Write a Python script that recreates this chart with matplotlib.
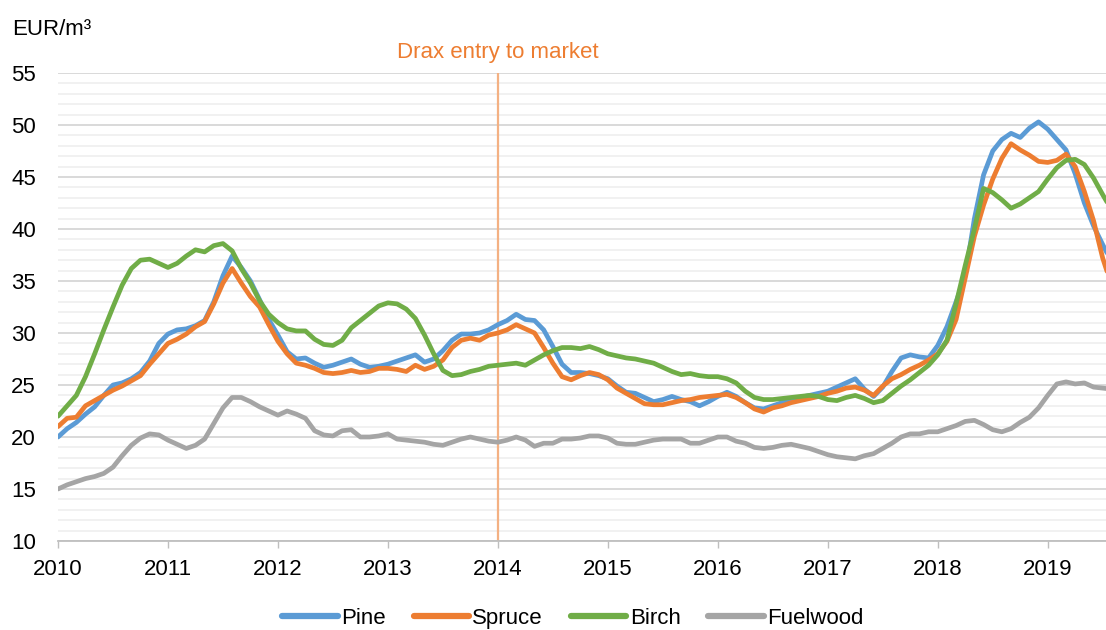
import numpy as np
import matplotlib
matplotlib.use("Agg")
import matplotlib.pyplot as plt

plt.rcParams['font.family'] = ['Liberation Sans', 'DejaVu Sans']

start_year = 2010
series_names = ["Pine", "Spruce", "Birch", "Fuelwood"]
colors = ["#5B9BD5", "#ED7D31", "#70AD47", "#A5A5A5"]

pine = [
    20.0, 20.8, 21.4, 22.2, 22.9, 24.0, 25.0, 25.2, 25.6, 26.2, 27.3, 29.0,
    29.9, 30.3, 30.4, 30.7, 31.2, 33.0, 35.5, 37.4, 36.3, 35.0, 33.2, 31.3,
    29.8, 28.2, 27.5, 27.6, 27.1, 26.7, 26.9, 27.2, 27.5, 27.0, 26.7, 26.8,
    27.0, 27.3, 27.6, 27.9, 27.2, 27.5, 28.3, 29.3, 29.9, 29.9, 30.0, 30.3,
    30.8, 31.2, 31.8, 31.3, 31.2, 30.3, 28.7, 27.0, 26.2, 26.2, 26.1, 25.9,
    25.6, 24.9, 24.3, 24.2, 23.8, 23.4, 23.6, 23.9, 23.6, 23.4, 23.0, 23.4,
    23.9, 24.3, 23.9, 23.3, 22.8, 22.7, 23.0, 23.3, 23.6, 23.8, 24.0, 24.2,
    24.4, 24.8, 25.2, 25.6, 24.6, 23.9, 24.8, 26.3, 27.6, 27.9, 27.7, 27.6,
    28.8, 30.6, 33.0, 35.5, 41.0, 45.2, 47.5, 48.6, 49.2, 48.8, 49.7, 50.3,
    49.6, 48.6, 47.6, 45.3, 42.5, 40.3, 38.5, 36.8,
]
spruce = [
    21.0, 21.8, 21.9, 23.0, 23.5, 24.0, 24.5, 24.9, 25.4, 25.9, 27.0, 28.0,
    29.0, 29.4, 29.9, 30.6, 31.1, 32.8, 34.8, 36.2, 34.8, 33.5, 32.5, 30.8,
    29.2, 28.0, 27.1, 26.9, 26.6, 26.2, 26.1, 26.2, 26.4, 26.2, 26.3, 26.6,
    26.6, 26.5, 26.3, 26.9, 26.5, 26.8, 27.4, 28.6, 29.3, 29.5, 29.3, 29.8,
    30.0, 30.3, 30.8, 30.4, 30.0, 28.6, 27.1, 25.8, 25.5, 25.9, 26.2, 26.0,
    25.5, 24.7, 24.2, 23.7, 23.2, 23.1, 23.1, 23.3, 23.5, 23.6, 23.8, 23.9,
    24.0, 24.1, 23.8, 23.3, 22.7, 22.4, 22.8, 23.0, 23.3, 23.5, 23.7, 23.9,
    24.2, 24.4, 24.7, 24.8, 24.5, 24.0, 24.9, 25.6, 26.0, 26.5, 26.9, 27.4,
    28.0, 29.2, 31.3, 35.3, 39.3, 42.3, 44.8, 46.8, 48.2, 47.6, 47.1, 46.5,
    46.4, 46.6, 47.2, 46.0, 43.6, 40.8, 37.2, 34.5,
]
birch = [
    22.0, 23.0, 24.0, 25.8, 28.0, 30.3, 32.5, 34.6, 36.2, 37.0, 37.1, 36.7,
    36.3, 36.7, 37.4, 38.0, 37.8, 38.4, 38.6, 37.9, 36.2, 34.8, 33.1, 31.8,
    31.0, 30.4, 30.2, 30.2, 29.4, 28.9, 28.8, 29.3, 30.5, 31.2, 31.9, 32.6,
    32.9, 32.8, 32.3, 31.4, 29.8, 28.0, 26.4, 25.9, 26.0, 26.3, 26.5, 26.8,
    26.9, 27.0, 27.1, 26.9, 27.4, 27.9, 28.3, 28.6, 28.6, 28.5, 28.7, 28.4,
    28.0, 27.8, 27.6, 27.5, 27.3, 27.1, 26.7, 26.3, 26.0, 26.1, 25.9, 25.8,
    25.8, 25.6, 25.2, 24.4, 23.8, 23.6, 23.6, 23.7, 23.8, 23.9, 24.0, 23.9,
    23.6, 23.5, 23.8, 24.0, 23.7, 23.3, 23.5, 24.2, 24.9, 25.5, 26.2, 26.9,
    27.9, 29.3, 32.8, 36.5, 40.0, 43.9, 43.5, 42.8, 42.0, 42.4, 43.0, 43.6,
    44.8, 45.9, 46.6, 46.7, 46.2, 44.9, 43.3, 41.8,
]
fuelwood = [
    15.0, 15.4, 15.7, 16.0, 16.2, 16.5, 17.1, 18.2, 19.2, 19.9, 20.3, 20.2,
    19.7, 19.3, 18.9, 19.2, 19.8, 21.3, 22.8, 23.8, 23.8, 23.4, 22.9, 22.5,
    22.1, 22.5, 22.2, 21.8, 20.6, 20.2, 20.1, 20.6, 20.7, 20.0, 20.0, 20.1,
    20.3, 19.8, 19.7, 19.6, 19.5, 19.3, 19.2, 19.5, 19.8, 20.0, 19.8, 19.6,
    19.5, 19.7, 20.0, 19.7, 19.1, 19.4, 19.4, 19.8, 19.8, 19.9, 20.1, 20.1,
    19.9, 19.4, 19.3, 19.3, 19.5, 19.7, 19.8, 19.8, 19.8, 19.4, 19.4, 19.7,
    20.0, 20.0, 19.6, 19.4, 19.0, 18.9, 19.0, 19.2, 19.3, 19.1, 18.9, 18.6,
    18.3, 18.1, 18.0, 17.9, 18.2, 18.4, 18.9, 19.4, 20.0, 20.3, 20.3, 20.5,
    20.5, 20.8, 21.1, 21.5, 21.6, 21.2, 20.7, 20.5, 20.8, 21.4, 21.9, 22.8,
    24.0, 25.1, 25.3, 25.1, 25.2, 24.8, 24.7, 24.6,
]
year_ticks = [2010, 2011, 2012, 2013, 2014, 2015, 2016, 2017, 2018, 2019]
y_ticks = [10, 15, 20, 25, 30, 35, 40, 45, 50, 55]
drax_year = 2014
drax_label = "Drax entry to market"
y_unit = "EUR/m³"

fig = plt.figure(figsize=(11.06, 6.30), dpi=100)
ax = fig.add_axes([58 / 1106, (630 - 541) / 630, 1 - 58 / 1106, (541 - 73) / 630])

x = start_year + np.arange(len(pine)) / 12.0
for name, vals, c in zip(series_names, [pine, spruce, birch, fuelwood], colors):
    ax.plot(x, vals, color=c, lw=3.4, label=name,
            solid_joinstyle='round', solid_capstyle='round', zorder=3)

ax.set_xlim(2010, 2019.53)
ax.set_ylim(10, 55)
ax.set_yticks(y_ticks)
ax.set_yticks(np.arange(10, 56, 1), minor=True)
ax.set_xticks(year_ticks)
ax.set_xticklabels([str(y) for y in year_ticks])

ax.grid(axis='y', which='major', color='#d9d9d9', lw=1.4, zorder=0)
ax.grid(axis='y', which='minor', color='#efefef', lw=1.2, zorder=0)
ax.set_axisbelow(True)

for s in ['top', 'right', 'left']:
    ax.spines[s].set_visible(False)
ax.spines['bottom'].set_color('#bfbfbf')
ax.spines['bottom'].set_linewidth(1.3)
ax.spines['bottom'].set_zorder(2)

ax.tick_params(axis='x', which='major', direction='out', length=5, width=1.0,
               color='#bfbfbf', labelsize=16, pad=8)
ax.tick_params(axis='y', which='both', length=0, labelsize=16, pad=16)
ax.tick_params(axis='x', which='minor', length=0)

ax.axvline(drax_year, color='#F4B183', lw=1.6, zorder=2)
ax.annotate(drax_label, xy=(drax_year, 1.0), xycoords=('data', 'axes fraction'),
            xytext=(0, 11), textcoords='offset points', ha='center', va='baseline',
            color='#ED7D31', fontsize=16)

fig.text(12 / 1106, (630 - 35) / 630, y_unit, fontsize=16, ha='left', va='baseline')

leg = fig.legend(loc='center', bbox_to_anchor=(0.518, 0.018), ncol=4, frameon=False,
                 fontsize=16, handlelength=2.5, handletextpad=0.15, columnspacing=1.25,
                 borderpad=0.2)
for h in leg.get_lines():
    h.set_linewidth(4.5)

fig.savefig("out.png", dpi=100)
